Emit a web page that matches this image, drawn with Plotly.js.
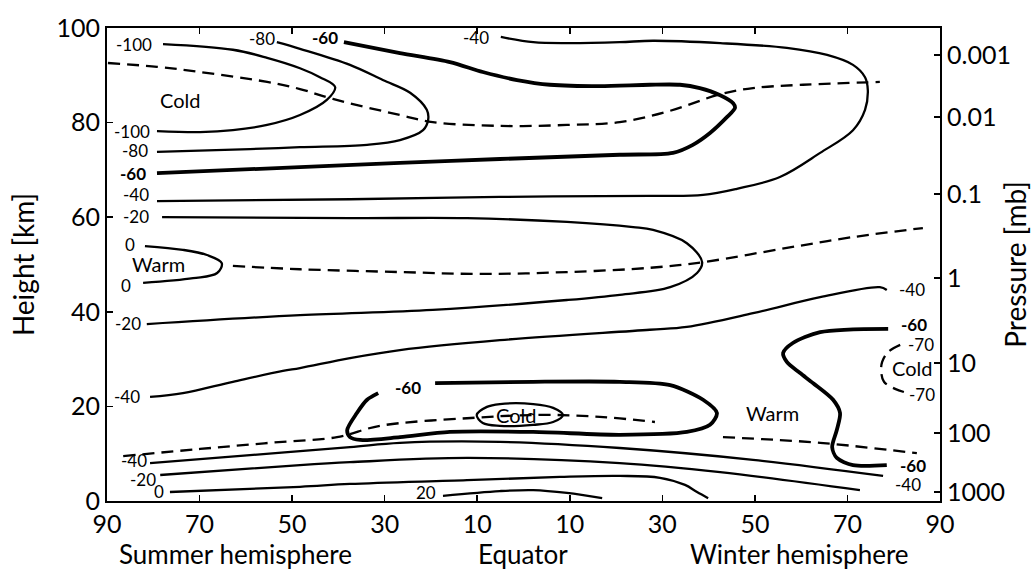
<!DOCTYPE html>
<html>
<head>
<meta charset="utf-8">
<script src="https://cdn.plot.ly/plotly-3.0.1.min.js"></script>
<style>html,body{margin:0;padding:0;background:#fff;}#chart{width:1032px;height:571px;}</style>
</head>
<body>
<div id="chart"></div>
<script>
// Latitude position: 0 = 90° summer pole, 90 = equator, 180 = 90° winter pole
const xTickVals = [0,20,40,60,80,100,120,140,160,180];
const xTickText = ['90','70','50','30','10','10','30','50','70','90'];
const yTickVals = [0,20,40,60,80,100];
const pressureLabels = ['0.001','0.01','0.1','1','10','100','1000'];
const pressureHeights = [94.3,81.2,64.9,47.1,29.2,14.4,1.9];

// Solid isotherms (thin)
const m100_x = [12.1,27.2,34.6,41.7,46.0,49.3,47.5,41.7,34.6,27.2,20.1,10.8];
const m100_y = [96.6,95.4,93.7,91.5,89.6,87.5,84.8,81.6,79.5,78.4,78.0,78.2];
const m80_x = [36.7,41.7,52.5,59.6,65.5,69.1,69.4,68.3,63.3,56.2,41.7,30.9,10.8];
const m80_y = [97.0,95.6,92.2,89.0,86.3,82.7,80.6,78.4,76.3,75.3,74.8,74.4,73.8];
const m40top_x = [85.1,92.1,99.4,110.8,118.0,132.5,146.9,155.6,161.2,163.8,164.4,163.8,161.2,154.1,145.4,136.1,128.8,117.3,84.9,52.5,10.8];
const m40top_y = [98.1,97.0,96.8,97.0,97.3,96.8,95.8,94.3,92.2,89.6,86.9,82.7,78.4,73.6,68.5,66.0,64.7,64.5,64.3,63.8,63.4];
const m20up_x = [11.9,52.5,77.8,99.4,113.7,118.0,125.3,128.6,127.5,121.7,110.8,99.4,70.4,41.7,8.6];
const m20up_y = [60.0,59.8,59.8,59.0,57.9,57.3,54.5,50.5,48.2,45.2,43.6,42.5,40.4,39.3,37.4];
const zeroWarm_x = [8.2,16.4,21.6,24.8,23.8,18.6,7.8];
const zeroWarm_y = [53.9,53.1,52.0,50.3,48.2,47.1,46.1];
const m40mid_x = [9.3,16.4,27.2,38.0,41.7,52.5,63.3,84.9,117.3,125.3,139.6,154.1,167.0,168.5];
const m40mid_y = [22.0,22.8,25.2,27.5,28.1,30.2,31.9,34.0,36.2,36.8,39.7,43.1,45.2,44.6];
const coldEq_x = [79.9,82.1,84.9,92.1,96.4,98.5,96.4,92.1,84.9,81.2,79.9];
const coldEq_y = [18.2,19.9,20.5,20.5,19.7,18.2,16.7,16.1,15.9,16.5,18.2];
const m40bot_x = [9.3,30.9,52.5,63.3,84.9,110.8,139.6,167.7];
const m40bot_y = [8.0,9.7,11.4,12.3,12.5,11.2,8.7,5.3];
const m20bot_x = [11.5,41.7,52.5,77.8,110.8,132.5,162.7];
const m20bot_y = [5.5,7.6,8.2,9.1,8.0,6.1,2.3];
const zeroBot_x = [13.6,41.7,52.5,77.8,97.9,110.8,119.5,124.9,127.5,129.9];
const zeroBot_y = [1.9,3.0,3.6,4.4,5.1,5.3,4.9,3.4,1.9,0.6];
const p20_x = [72.6,84.9,92.1,99.4,107.0];
const p20_y = [1.1,2.1,2.3,1.7,0.6];

// Thick -60 isotherms
const m60top_x = [51.2,63.3,74.1,81.2,88.6,95.7,106.5,117.3,123.8,128.1,132.5,135.3,135.7,134.0,130.3,126.6,122.3,110.8,84.9,63.3,41.7,10.8];
const m60top_y = [97.0,94.7,92.8,90.7,89.0,88.0,87.7,88.0,88.0,87.3,85.8,84.1,83.1,81.2,77.8,75.3,73.6,73.2,72.3,71.5,70.6,69.3];
const m60mid_x = [58.6,56.2,54.0,51.9,52.5,54.7,63.3,74.1,92.1,110.8,125.3,130.3,131.8,128.8,121.7,110.8,92.1,70.9];
const m60mid_y = [22.8,21.4,18.6,15.0,13.5,12.9,13.5,14.6,14.6,14.0,14.6,16.1,18.6,21.4,24.5,25.2,25.2,24.9];
const m60right_x = [168.8,154.1,148.2,146.1,146.9,149.7,152.6,156.9,158.4,157.7,156.7,157.7,161.2,168.5];
const m60right_y = [36.4,35.7,33.4,31.3,29.4,27.1,24.9,21.4,18.6,15.0,11.4,9.1,7.6,7.6];

// Dashed lines
const mesopause_x = [0.2,10.8,20.1,34.6,41.7,48.8,63.3,70.4,84.9,99.4,110.8,121.7,132.5,139.6,150.4,167.0];
const mesopause_y = [92.6,91.8,90.7,88.6,87.1,85.0,81.6,80.1,79.3,79.5,80.1,82.5,86.0,87.3,88.0,88.6];
const stratopause_x = [27.2,41.7,63.3,81.2,99.4,117.3,128.8,146.9,161.2,176.3];
const stratopause_y = [49.7,49.0,48.4,48.0,48.4,49.3,50.5,53.5,55.8,57.7];
const tropoL_x = [3.5,20.1,35.2,49.7,59.0,77.8,93.6,106.5,118.4];
const tropoL_y = [9.5,11.0,12.3,13.5,15.9,17.5,18.2,17.8,16.7];
const tropoR_x = [133.1,154.1,175.0];
const tropoR_y = [13.5,12.3,10.1];
const m70_x = [171.4,168.8,167.5,167.3,167.9,170.3,173.1];
const m70_y = [33.0,31.5,29.4,27.3,25.2,23.7,22.8];

// Text labels
const labelText = ['-100','-80','<b>-60</b>','-40','Cold','-100','-80','<b>-60</b>','-40','-20','0','Warm','0','-20','-40','-40','-20','0','<b>-60</b>','Cold','20','Warm','-40','<b>-60</b>','-70','Cold','-70','<b>-60</b>','-40'];
const labelX = [5.8,33.5,47.1,79.7,15.8,5.4,6.1,5.6,6.3,6.3,5.0,11.2,4.1,4.5,4.3,5.9,7.8,11.2,65.0,88.4,68.9,143.7,173.9,174.4,175.9,173.9,176.1,174.2,173.1];
const labelY = [96.6,97.7,97.9,97.9,84.8,78.2,74.0,69.3,64.8,60.2,54.3,50.2,45.5,37.6,22.0,8.6,4.6,2.0,24.1,18.2,1.7,18.6,44.8,37.3,33.1,28.1,22.6,7.6,3.5];

const regionLabels = ['Summer hemisphere','Equator','Winter hemisphere'];
const regionX = [27.7,89.9,149.7];

const FONT = 'Lato, "Open Sans", sans-serif';
const thin = {color:'#000', width:2.3, shape:'spline', smoothing:1};
const thick = {color:'#000', width:3.8, shape:'spline', smoothing:0.8};
const dashed = {color:'#000', width:2.3, dash:'12px,7px', shape:'spline', smoothing:1};

function tr(x, y, line, yaxis) {
  return {type:'scatter', mode:'lines', x:x, y:y, line:line, hoverinfo:'skip', showlegend:false, yaxis: yaxis || 'y'};
}

const traces = [
  tr(mesopause_x, mesopause_y, dashed),
  tr(stratopause_x, stratopause_y, dashed),
  tr(tropoL_x, tropoL_y, dashed),
  tr(tropoR_x, tropoR_y, dashed),
  tr(m70_x, m70_y, dashed),
  tr(m100_x, m100_y, thin),
  tr(m80_x, m80_y, thin),
  tr(m40top_x, m40top_y, thin),
  tr(m20up_x, m20up_y, thin),
  tr(zeroWarm_x, zeroWarm_y, thin),
  tr(m40mid_x, m40mid_y, thin),
  tr(coldEq_x, coldEq_y, thin),
  tr(m40bot_x, m40bot_y, thin),
  tr(m20bot_x, m20bot_y, thin),
  tr(zeroBot_x, zeroBot_y, thin),
  tr(p20_x, p20_y, thin),
  tr(m60top_x, m60top_y, thick),
  tr(m60mid_x, m60mid_y, thick),
  tr(m60right_x, m60right_y, thick, 'y2')
];

const annotations = [];
for (let i = 0; i < labelText.length; i++) {
  const isWord = (labelText[i] === 'Cold' || labelText[i] === 'Warm');
  annotations.push({x:labelX[i], y:labelY[i], xref:'x', yref:'y', text:labelText[i], showarrow:false,
    xanchor:'center', yanchor:'middle', borderpad:0,
    font:{family:FONT, size: isWord ? 20 : 17, color:'#000'}});
}
for (let i = 0; i < regionLabels.length; i++) {
  annotations.push({x:regionX[i], y:-0.113, xref:'x', yref:'paper', text:regionLabels[i], showarrow:false,
    xanchor:'center', yanchor:'middle', borderpad:0, font:{family:FONT, size:26, color:'#000'}});
}

const layout = {
  width:1032, height:571,
  margin:{l:107, r:92, t:28, b:70},
  paper_bgcolor:'#fff', plot_bgcolor:'#fff',
  font:{family:FONT, color:'#000'},
  showlegend:false,
  hovermode:false,
  xaxis:{range:[0,180], tickvals:xTickVals, ticktext:xTickText, ticks:'inside', ticklen:6, tickwidth:1.5,
    tickcolor:'#000', showline:true, linecolor:'#000', linewidth:2, mirror:'ticks', showgrid:false, zeroline:false,
    tickfont:{family:FONT, size:25, color:'#000'}, fixedrange:true},
  yaxis:{range:[0,100], tickvals:yTickVals, ticks:'inside', ticklen:6, tickwidth:1.5, tickcolor:'#000',
    showline:true, linecolor:'#000', linewidth:2, showgrid:false, zeroline:false,
    tickfont:{family:FONT, size:25, color:'#000'},
    title:{text:'Height [km]', font:{family:FONT, size:28, color:'#000'}, standoff:14}, fixedrange:true},
  yaxis2:{range:[0,100], overlaying:'y', side:'right', tickvals:pressureHeights, ticktext:pressureLabels,
    ticks:'inside', ticklen:6, tickwidth:1.5, tickcolor:'#000', showline:true, linecolor:'#000', linewidth:2,
    showgrid:false, zeroline:false, tickfont:{family:FONT, size:25, color:'#000'},
    title:{text:'Pressure [mb]', font:{family:FONT, size:28, color:'#000'}, standoff:4}, fixedrange:true},
  annotations:annotations
};

Plotly.newPlot('chart', traces, layout, {displayModeBar:false, staticPlot:true});
</script>
</body>
</html>
